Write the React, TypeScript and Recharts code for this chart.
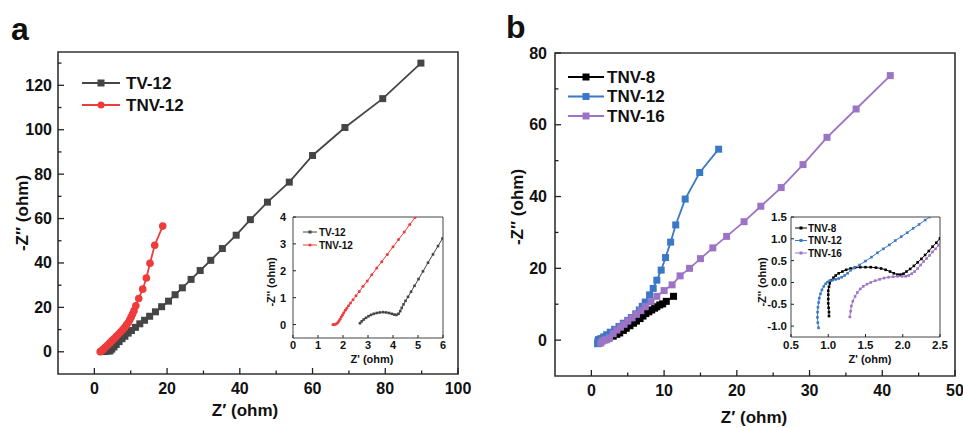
import React from 'react';
import { ScatterChart, Scatter, XAxis, YAxis, ReferenceArea, Legend } from 'recharts';

const FONT = '"Liberation Sans", Arial, Helvetica, sans-serif';
const INK = '#222';

// ---------- colours ----------
const C_TV = '#454545';
const C_RED = '#ee3b3b';
const C_BLACK = '#000000';
const C_BLUE = '#3b78c6';
const C_PURPLE = '#9c74c6';

// ---------- panel a, main ----------
const aTV12 = [
  { x: 2.7, y: 0.1 }, { x: 3.2, y: 0.3 }, { x: 3.8, y: 0.4 }, { x: 4.3, y: 0.4 }, { x: 4.8, y: 1.2 },
  { x: 5.4, y: 2.2 }, { x: 6.0, y: 3.3 }, { x: 6.8, y: 4.6 }, { x: 7.6, y: 5.9 }, { x: 8.4, y: 7.0 },
  { x: 9.3, y: 8.4 }, { x: 10.2, y: 9.6 }, { x: 11.3, y: 11.0 }, { x: 12.5, y: 12.6 }, { x: 13.8, y: 14.2 },
  { x: 15.2, y: 16.0 }, { x: 16.8, y: 18.0 }, { x: 18.5, y: 20.3 }, { x: 20.4, y: 22.8 }, { x: 22.2, y: 25.7 },
  { x: 24.2, y: 28.8 }, { x: 26.6, y: 32.6 }, { x: 29.1, y: 36.6 }, { x: 32.0, y: 41.2 }, { x: 35.2, y: 46.5 },
  { x: 39.0, y: 52.5 }, { x: 42.9, y: 59.5 }, { x: 47.6, y: 67.4 }, { x: 53.6, y: 76.4 }, { x: 60.0, y: 88.4 },
  { x: 68.9, y: 101 }, { x: 79.3, y: 114 }, { x: 89.8, y: 130 },
];
const aTNV12 = [
  { x: 1.6, y: 0 }, { x: 1.8, y: 0.2 }, { x: 2.1, y: 0.6 }, { x: 2.5, y: 1.2 }, { x: 3.0, y: 2.0 },
  { x: 3.6, y: 2.9 }, { x: 4.2, y: 3.9 }, { x: 4.8, y: 4.9 }, { x: 5.4, y: 5.9 }, { x: 6.0, y: 6.9 },
  { x: 6.6, y: 7.9 }, { x: 7.2, y: 8.9 }, { x: 7.8, y: 9.9 }, { x: 8.3, y: 10.9 }, { x: 8.8, y: 12.0 },
  { x: 9.3, y: 13.1 }, { x: 9.7, y: 14.3 }, { x: 10.1, y: 15.6 }, { x: 10.5, y: 17.0 }, { x: 10.9, y: 18.5 },
  { x: 11.4, y: 20.7 }, { x: 12.2, y: 24.0 }, { x: 13.3, y: 28.2 }, { x: 14.3, y: 33.2 }, { x: 15.3, y: 39.9 },
  { x: 16.6, y: 48.0 }, { x: 18.8, y: 56.6 },
];
const aXTicks = [0, 10, 20, 30, 40, 50, 60, 70, 80, 90, 100];
const aXMajor = [0, 20, 40, 60, 80, 100];
const aYTicks = [0, 10, 20, 30, 40, 50, 60, 70, 80, 90, 100, 110, 120, 130];
const aYMajor = [0, 20, 40, 60, 80, 100, 120];

// ---------- panel a, inset ----------
const aiTV12 = [
  { x: 2.68, y: 0.05 }, { x: 2.75, y: 0.12 }, { x: 2.83, y: 0.19 }, { x: 2.92, y: 0.25 }, { x: 3.02, y: 0.31 },
  { x: 3.12, y: 0.36 }, { x: 3.23, y: 0.4 }, { x: 3.35, y: 0.43 }, { x: 3.47, y: 0.45 }, { x: 3.6, y: 0.46 },
  { x: 3.72, y: 0.45 }, { x: 3.84, y: 0.43 }, { x: 3.95, y: 0.4 }, { x: 4.05, y: 0.37 }, { x: 4.14, y: 0.36 },
  { x: 4.22, y: 0.4 }, { x: 4.29, y: 0.5 }, { x: 4.35, y: 0.62 }, { x: 4.42, y: 0.75 }, { x: 4.5, y: 0.88 },
  { x: 4.6, y: 1.03 }, { x: 4.72, y: 1.22 }, { x: 4.86, y: 1.44 }, { x: 5.02, y: 1.69 }, { x: 5.2, y: 1.98 },
  { x: 5.4, y: 2.3 }, { x: 5.6, y: 2.61 }, { x: 5.8, y: 2.92 }, { x: 5.98, y: 3.2 },
];
const aiTNV12 = [
  { x: 1.6, y: 0.0 }, { x: 1.66, y: 0.0 }, { x: 1.72, y: 0.02 }, { x: 1.78, y: 0.06 }, { x: 1.83, y: 0.12 },
  { x: 1.88, y: 0.2 }, { x: 1.93, y: 0.28 }, { x: 1.98, y: 0.36 }, { x: 2.03, y: 0.44 }, { x: 2.09, y: 0.53 },
  { x: 2.15, y: 0.61 }, { x: 2.22, y: 0.7 }, { x: 2.3, y: 0.8 }, { x: 2.4, y: 0.92 }, { x: 2.52, y: 1.07 },
  { x: 2.65, y: 1.23 }, { x: 2.8, y: 1.42 }, { x: 2.97, y: 1.62 }, { x: 3.15, y: 1.85 }, { x: 3.35, y: 2.1 },
  { x: 3.55, y: 2.34 }, { x: 3.77, y: 2.61 }, { x: 4.0, y: 2.89 }, { x: 4.22, y: 3.16 }, { x: 4.45, y: 3.44 },
  { x: 4.67, y: 3.72 }, { x: 4.88, y: 3.98 },
];
const aiXTicks = [0, 1, 2, 3, 4, 5, 6];
const aiYTicks = [0, 1, 2, 3, 4];

// ---------- panel b, main ----------
const bTNV8 = [
  { x: 1.0, y: -0.8 }, { x: 1.0, y: 0 }, { x: 1.5, y: 0.3 }, { x: 2.0, y: 0.2 }, { x: 2.4, y: 0.6 },
  { x: 3.0, y: 1.1 }, { x: 3.5, y: 1.6 }, { x: 3.9, y: 2.0 }, { x: 4.4, y: 2.7 }, { x: 4.8, y: 3.3 },
  { x: 5.3, y: 4.0 }, { x: 5.8, y: 4.7 }, { x: 6.2, y: 5.3 }, { x: 6.7, y: 6.0 }, { x: 7.1, y: 6.7 },
  { x: 7.5, y: 7.4 }, { x: 7.9, y: 7.9 }, { x: 8.3, y: 8.4 }, { x: 8.7, y: 8.9 }, { x: 9.0, y: 9.3 },
  { x: 9.4, y: 9.8 }, { x: 9.8, y: 10.1 }, { x: 10.3, y: 10.8 }, { x: 11.3, y: 12.2 },
];
const bTNV12 = [
  { x: 0.86, y: -1.0 }, { x: 0.9, y: -0.3 }, { x: 1.0, y: 0.1 }, { x: 1.3, y: 0.4 }, { x: 1.7, y: 0.9 },
  { x: 2.1, y: 1.5 }, { x: 2.6, y: 2.2 }, { x: 3.2, y: 3.0 }, { x: 3.8, y: 3.8 }, { x: 4.4, y: 4.7 },
  { x: 5.0, y: 5.5 }, { x: 5.5, y: 6.3 }, { x: 6.1, y: 7.3 }, { x: 6.6, y: 8.4 }, { x: 7.0, y: 9.4 },
  { x: 7.4, y: 10.6 }, { x: 8.0, y: 12.6 }, { x: 8.5, y: 14.4 }, { x: 9.0, y: 16.7 }, { x: 9.6, y: 19.5 },
  { x: 10.2, y: 23.0 }, { x: 10.9, y: 27.3 }, { x: 11.6, y: 32.1 }, { x: 12.9, y: 39.3 }, { x: 14.9, y: 46.7 },
  { x: 17.5, y: 53.2 },
];
const bTNV16 = [
  { x: 1.3, y: -0.8 }, { x: 1.5, y: -0.3 }, { x: 1.8, y: 0.0 }, { x: 2.1, y: 0.1 }, { x: 2.5, y: 0.6 },
  { x: 3.0, y: 1.8 }, { x: 3.5, y: 2.8 }, { x: 4.0, y: 3.6 }, { x: 4.5, y: 4.4 }, { x: 5.0, y: 5.3 },
  { x: 5.6, y: 6.2 }, { x: 6.2, y: 7.2 }, { x: 6.8, y: 8.2 }, { x: 7.4, y: 9.3 }, { x: 8.2, y: 10.7 },
  { x: 9.0, y: 12.2 }, { x: 10.0, y: 13.8 }, { x: 11.1, y: 15.4 }, { x: 12.2, y: 17.9 }, { x: 13.5, y: 20.0 },
  { x: 15.0, y: 22.7 }, { x: 16.7, y: 25.7 }, { x: 18.6, y: 28.9 }, { x: 21.0, y: 33.0 }, { x: 23.3, y: 37.3 },
  { x: 26.1, y: 42.5 }, { x: 29.1, y: 48.9 }, { x: 32.4, y: 56.5 }, { x: 36.4, y: 64.4 }, { x: 41.1, y: 73.7 },
];
const bXTicks = [0, 5, 10, 15, 20, 25, 30, 35, 40, 45, 50];
const bXMajor = [0, 10, 20, 30, 40, 50];
const bYTicks = [0, 10, 20, 30, 40, 50, 60, 70, 80];
const bYMajor = [0, 20, 40, 60, 80];

// ---------- panel b, inset ----------
const biTNV8 = [
  { x: 1.01, y: -0.77 }, { x: 1.01, y: -0.68 }, { x: 1.005, y: -0.58 }, { x: 1.0, y: -0.48 }, { x: 1.0, y: -0.38 },
  { x: 1.0, y: -0.28 }, { x: 1.0, y: -0.19 }, { x: 1.01, y: -0.1 }, { x: 1.02, y: -0.02 }, { x: 1.04, y: 0.05 },
  { x: 1.07, y: 0.11 }, { x: 1.1, y: 0.16 }, { x: 1.14, y: 0.21 }, { x: 1.19, y: 0.25 }, { x: 1.24, y: 0.29 },
  { x: 1.3, y: 0.32 }, { x: 1.36, y: 0.34 }, { x: 1.43, y: 0.35 }, { x: 1.5, y: 0.35 }, { x: 1.57, y: 0.35 },
  { x: 1.64, y: 0.34 }, { x: 1.71, y: 0.32 }, { x: 1.77, y: 0.29 }, { x: 1.83, y: 0.25 }, { x: 1.88, y: 0.21 },
  { x: 1.93, y: 0.18 }, { x: 1.97, y: 0.18 }, { x: 2.01, y: 0.2 }, { x: 2.05, y: 0.25 }, { x: 2.1, y: 0.31 },
  { x: 2.15, y: 0.38 }, { x: 2.2, y: 0.46 }, { x: 2.25, y: 0.54 }, { x: 2.3, y: 0.63 }, { x: 2.35, y: 0.72 },
  { x: 2.4, y: 0.82 }, { x: 2.45, y: 0.91 }, { x: 2.5, y: 1.01 },
];
const biTNV12 = [
  { x: 0.87, y: -1.04 }, { x: 0.86, y: -0.92 }, { x: 0.855, y: -0.8 }, { x: 0.857, y: -0.68 }, { x: 0.862, y: -0.57 },
  { x: 0.87, y: -0.46 }, { x: 0.88, y: -0.36 }, { x: 0.895, y: -0.26 }, { x: 0.915, y: -0.17 }, { x: 0.94, y: -0.09 },
  { x: 0.965, y: -0.03 }, { x: 0.99, y: 0.01 }, { x: 1.02, y: 0.04 }, { x: 1.06, y: 0.06 }, { x: 1.1, y: 0.07 },
  { x: 1.14, y: 0.09 }, { x: 1.18, y: 0.12 }, { x: 1.22, y: 0.16 }, { x: 1.26, y: 0.21 }, { x: 1.3, y: 0.28 },
  { x: 1.35, y: 0.33 }, { x: 1.42, y: 0.4 }, { x: 1.5, y: 0.49 }, { x: 1.58, y: 0.58 }, { x: 1.66, y: 0.68 },
  { x: 1.74, y: 0.77 }, { x: 1.82, y: 0.86 }, { x: 1.9, y: 0.96 }, { x: 1.98, y: 1.05 }, { x: 2.06, y: 1.14 },
  { x: 2.14, y: 1.24 }, { x: 2.22, y: 1.33 }, { x: 2.3, y: 1.43 }, { x: 2.36, y: 1.5 },
];
const biTNV16 = [
  { x: 1.29, y: -0.79 }, { x: 1.3, y: -0.66 }, { x: 1.31, y: -0.54 }, { x: 1.33, y: -0.43 }, { x: 1.36, y: -0.32 },
  { x: 1.39, y: -0.23 }, { x: 1.43, y: -0.15 }, { x: 1.47, y: -0.09 }, { x: 1.52, y: -0.04 }, { x: 1.57, y: 0.0 },
  { x: 1.63, y: 0.04 }, { x: 1.69, y: 0.07 }, { x: 1.75, y: 0.1 }, { x: 1.81, y: 0.12 }, { x: 1.87, y: 0.13 },
  { x: 1.93, y: 0.14 }, { x: 1.99, y: 0.14 }, { x: 2.04, y: 0.14 }, { x: 2.08, y: 0.16 }, { x: 2.12, y: 0.2 },
  { x: 2.16, y: 0.25 }, { x: 2.2, y: 0.32 }, { x: 2.24, y: 0.4 }, { x: 2.28, y: 0.48 }, { x: 2.32, y: 0.55 },
  { x: 2.36, y: 0.62 }, { x: 2.4, y: 0.7 }, { x: 2.44, y: 0.77 }, { x: 2.48, y: 0.85 }, { x: 2.5, y: 0.88 },
];
const biXTicks = [0.5, 1.0, 1.5, 2.0, 2.5];
const biYTicks = [-1.0, -0.5, 0.0, 0.5, 1.0, 1.5];

// ---------- helpers ----------
type TickOpts = {
  side: 'left' | 'bottom';
  majors: number[];
  majorLen: number;
  minorLen: number;
  gap: number;
  fontSize: number;
  digits: number;
  width?: number;
};

const makeTick = (o: TickOpts) => (props: any) => {
  const { x, y, payload } = props;
  const v = Number(payload.value);
  const major = o.majors.some((m) => Math.abs(m - v) < 1e-6);
  const len = major ? o.majorLen : o.minorLen;
  const label = v.toFixed(o.digits);
  const sw = o.width ?? 1.3;
  const textProps = {
    fontSize: o.fontSize,
    fontWeight: 700,
    fontFamily: FONT,
    fill: '#111',
    dominantBaseline: 'central' as const,
  };
  if (o.side === 'left') {
    return (
      <g>
        <line x1={x} x2={x + len} y1={y} y2={y} stroke={INK} strokeWidth={sw} />
        {major && (
          <text x={x - o.gap} y={y} textAnchor="end" {...textProps}>
            {label}
          </text>
        )}
      </g>
    );
  }
  return (
    <g>
      <line x1={x} x2={x} y1={y} y2={y - len} stroke={INK} strokeWidth={sw} />
      {major && (
        <text x={x} y={y + o.gap} textAnchor="middle" {...textProps}>
          {label}
        </text>
      )}
    </g>
  );
};

const yTitle = (text: string, cx: number, cy: number, size: number) => () => (
  <text
    x={cx}
    y={cy}
    transform={`rotate(-90 ${cx} ${cy})`}
    textAnchor="middle"
    dominantBaseline="central"
    fontSize={size}
    fontWeight={700}
    fontFamily={FONT}
    fill="#111"
  >
    {text}
  </text>
);

const xTitle = (text: string, cx: number, cy: number, size: number) => () => (
  <text
    x={cx}
    y={cy}
    textAnchor="middle"
    dominantBaseline="central"
    fontSize={size}
    fontWeight={700}
    fontFamily={FONT}
    fill="#111"
  >
    {text}
  </text>
);

const squareShape = (size: number, color: string) => (p: any) => (
  <rect x={p.cx - size / 2} y={p.cy - size / 2} width={size} height={size} fill={color} />
);
const circleShape = (r: number, color: string) => (p: any) => <circle cx={p.cx} cy={p.cy} r={r} fill={color} />;

type LegItem = { name: string; color: string; shape: 'square' | 'circle' };
type LegOpts = {
  y0: number;
  rowGap: number;
  x0: number;
  x1: number;
  textX: number;
  marker: number;
  fontSize: number;
  lineW: number;
  w: number;
  h: number;
};
const makeLegend = (items: LegItem[], o: LegOpts) => () => (
  <svg width={o.w} height={o.h} style={{ overflow: 'visible', display: 'block' }}>
    {items.map((it, i) => {
      const cy = o.y0 + i * o.rowGap;
      const mx = (o.x0 + o.x1) / 2;
      return (
        <g key={it.name}>
          <line x1={o.x0} x2={o.x1} y1={cy} y2={cy} stroke={it.color} strokeWidth={o.lineW} />
          {it.shape === 'square' ? (
            <rect x={mx - o.marker / 2} y={cy - o.marker / 2} width={o.marker} height={o.marker} fill={it.color} />
          ) : (
            <circle cx={mx} cy={cy} r={o.marker / 2} fill={it.color} />
          )}
          <text
            x={o.textX}
            y={cy}
            dominantBaseline="central"
            fontSize={o.fontSize}
            fontWeight={700}
            fontFamily={FONT}
            fill="#111"
          >
            {it.name}
          </text>
        </g>
      );
    })}
  </svg>
);

const legendA: LegItem[] = [
  { name: 'TV-12', color: C_TV, shape: 'square' },
  { name: 'TNV-12', color: C_RED, shape: 'circle' },
];
const legendB: LegItem[] = [
  { name: 'TNV-8', color: C_BLACK, shape: 'square' },
  { name: 'TNV-12', color: C_BLUE, shape: 'square' },
  { name: 'TNV-16', color: C_PURPLE, shape: 'square' },
];

// ---------- panels ----------
function PanelA() {
  return (
    <ScatterChart width={480} height={428} margin={{ top: 52, right: 22, bottom: 0, left: 0 }}>
      <XAxis
        type="number"
        dataKey="x"
        domain={[-10, 100]}
        ticks={aXTicks}
        interval={0}
        allowDataOverflow
        height={54}
        axisLine={false}
        tickLine={false}
        tickSize={0}
        tickMargin={0}
        tick={makeTick({ side: 'bottom', majors: aXMajor, majorLen: 6, minorLen: 3.5, gap: 14, fontSize: 16, digits: 0 })}
        label={xTitle('Z\u2032 (ohm)', 245, 410, 17)}
      />
      <YAxis
        type="number"
        dataKey="y"
        domain={[-10, 135]}
        ticks={aYTicks}
        interval={0}
        allowDataOverflow
        width={58}
        axisLine={false}
        tickLine={false}
        tickSize={0}
        tickMargin={0}
        tick={makeTick({ side: 'left', majors: aYMajor, majorLen: 6, minorLen: 3.5, gap: 6, fontSize: 16, digits: 0 })}
        label={yTitle('-Z\u2032\u2032 (ohm)', 22, 213, 17)}
      />
      <ReferenceArea x1={-10} x2={100} y1={-10} y2={135} fill="none" fillOpacity={0} stroke="#333" strokeWidth={1.6} />
      <Scatter
        name="TV-12"
        data={aTV12}
        fill={C_TV}
        line={{ stroke: C_TV, strokeWidth: 1.8 }}
        lineType="joint"
        shape={squareShape(7, C_TV)}
        isAnimationActive={false}
      />
      <Scatter
        name="TNV-12"
        data={aTNV12}
        fill={C_RED}
        line={{ stroke: C_RED, strokeWidth: 1.8 }}
        lineType="joint"
        shape={circleShape(3.8, C_RED)}
        isAnimationActive={false}
      />
      <Legend
        layout="horizontal"
        verticalAlign="middle"
        align="center"
        wrapperStyle={{ left: 78, top: 72, width: 140, height: 46 }}
        content={makeLegend(legendA, { y0: 11, rowGap: 22, x0: 4, x1: 42, textX: 48, marker: 7, fontSize: 17, lineW: 1.8, w: 140, h: 46 })}
      />
    </ScatterChart>
  );
}

function InsetA() {
  return (
    <ScatterChart width={200} height={165} margin={{ top: 12, right: 7, bottom: 0, left: 0 }}>
      <XAxis
        type="number"
        dataKey="x"
        domain={[0, 6]}
        ticks={aiXTicks}
        interval={0}
        allowDataOverflow
        height={32}
        axisLine={false}
        tickLine={false}
        tickSize={0}
        tickMargin={0}
        tick={makeTick({ side: 'bottom', majors: aiXTicks, majorLen: 3, minorLen: 2, gap: 7, fontSize: 11, digits: 0, width: 1 })}
        label={xTitle("Z' (ohm)", 122, 154, 11)}
      />
      <YAxis
        type="number"
        dataKey="y"
        domain={[-0.5, 4]}
        ticks={aiYTicks}
        interval={0}
        allowDataOverflow
        width={43}
        axisLine={false}
        tickLine={false}
        tickSize={0}
        tickMargin={0}
        tick={makeTick({ side: 'left', majors: aiYTicks, majorLen: 3, minorLen: 2, gap: 7, fontSize: 11, digits: 0, width: 1 })}
        label={yTitle("-Z'' (ohm)", 21, 77, 11)}
      />
      <ReferenceArea x1={0} x2={6} y1={-0.5} y2={4} fill="none" fillOpacity={0} stroke="#444" strokeWidth={1} />
      <Scatter
        name="TV-12"
        data={aiTV12}
        fill={C_TV}
        line={{ stroke: C_TV, strokeWidth: 1 }}
        lineType="joint"
        shape={squareShape(2.6, C_TV)}
        isAnimationActive={false}
      />
      <Scatter
        name="TNV-12"
        data={aiTNV12}
        fill={C_RED}
        line={{ stroke: C_RED, strokeWidth: 1 }}
        lineType="joint"
        shape={circleShape(1.5, C_RED)}
        isAnimationActive={false}
      />
      <Legend
        layout="horizontal"
        verticalAlign="middle"
        align="center"
        wrapperStyle={{ left: 50, top: 20, width: 80, height: 30 }}
        content={makeLegend(legendA, { y0: 7, rowGap: 13, x0: 3, x1: 17, textX: 19, marker: 3, fontSize: 10, lineW: 1, w: 80, h: 30 })}
      />
    </ScatterChart>
  );
}

function PanelB() {
  return (
    <ScatterChart width={483} height={428} margin={{ top: 53, right: 8, bottom: 0, left: 0 }}>
      <XAxis
        type="number"
        dataKey="x"
        domain={[-5, 50]}
        ticks={bXTicks}
        interval={0}
        allowDataOverflow
        height={52}
        axisLine={false}
        tickLine={false}
        tickSize={0}
        tickMargin={0}
        tick={makeTick({ side: 'bottom', majors: bXMajor, majorLen: 6, minorLen: 3.5, gap: 14, fontSize: 16, digits: 0 })}
        label={xTitle('Z\u2032 (ohm)', 274, 417, 17)}
      />
      <YAxis
        type="number"
        dataKey="y"
        domain={[-10, 80]}
        ticks={bYTicks}
        interval={0}
        allowDataOverflow
        width={75}
        axisLine={false}
        tickLine={false}
        tickSize={0}
        tickMargin={0}
        tick={makeTick({ side: 'left', majors: bYMajor, majorLen: 6, minorLen: 3.5, gap: 8, fontSize: 16, digits: 0 })}
        label={yTitle('-Z\u2032\u2032 (ohm)', 37, 207, 17)}
      />
      <ReferenceArea x1={-5} x2={50} y1={-10} y2={80} fill="none" fillOpacity={0} stroke="#333" strokeWidth={1.6} />
      <Scatter
        name="TNV-8"
        data={bTNV8}
        fill={C_BLACK}
        line={{ stroke: C_BLACK, strokeWidth: 1.8 }}
        lineType="joint"
        shape={squareShape(7, C_BLACK)}
        isAnimationActive={false}
      />
      <Scatter
        name="TNV-12"
        data={bTNV12}
        fill={C_BLUE}
        line={{ stroke: C_BLUE, strokeWidth: 1.8 }}
        lineType="joint"
        shape={squareShape(7, C_BLUE)}
        isAnimationActive={false}
      />
      <Scatter
        name="TNV-16"
        data={bTNV16}
        fill={C_PURPLE}
        line={{ stroke: C_PURPLE, strokeWidth: 1.8 }}
        lineType="joint"
        shape={squareShape(7, C_PURPLE)}
        isAnimationActive={false}
      />
      <Legend
        layout="horizontal"
        verticalAlign="middle"
        align="center"
        wrapperStyle={{ left: 85, top: 66, width: 140, height: 62 }}
        content={makeLegend(legendB, { y0: 11, rowGap: 19.5, x0: 3, x1: 39, textX: 42, marker: 7, fontSize: 17, lineW: 1.8, w: 140, h: 62 })}
      />
    </ScatterChart>
  );
}

function InsetB() {
  return (
    <ScatterChart width={210} height={165} margin={{ top: 12, right: 10, bottom: 0, left: 0 }}>
      <XAxis
        type="number"
        dataKey="x"
        domain={[0.5, 2.5]}
        ticks={biXTicks}
        interval={0}
        allowDataOverflow
        height={33}
        axisLine={false}
        tickLine={false}
        tickSize={0}
        tickMargin={0}
        tick={makeTick({ side: 'bottom', majors: biXTicks, majorLen: 3, minorLen: 2, gap: 8, fontSize: 11.5, digits: 1, width: 1 })}
        label={xTitle("Z' (ohm)", 130, 154, 11)}
      />
      <YAxis
        type="number"
        dataKey="y"
        domain={[-1.25, 1.5]}
        ticks={biYTicks}
        interval={0}
        allowDataOverflow
        width={51}
        axisLine={false}
        tickLine={false}
        tickSize={0}
        tickMargin={0}
        tick={makeTick({ side: 'left', majors: biYTicks, majorLen: 3, minorLen: 2, gap: 4, fontSize: 11.5, digits: 1, width: 1 })}
        label={yTitle("-Z'' (ohm)", 22, 77, 11)}
      />
      <ReferenceArea x1={0.5} x2={2.5} y1={-1.25} y2={1.5} fill="none" fillOpacity={0} stroke="#444" strokeWidth={1} />
      <Scatter
        name="TNV-8"
        data={biTNV8}
        fill={C_BLACK}
        line={{ stroke: C_BLACK, strokeWidth: 1 }}
        lineType="joint"
        shape={squareShape(2.6, C_BLACK)}
        isAnimationActive={false}
      />
      <Scatter
        name="TNV-12"
        data={biTNV12}
        fill={C_BLUE}
        line={{ stroke: C_BLUE, strokeWidth: 1 }}
        lineType="joint"
        shape={squareShape(2.6, C_BLUE)}
        isAnimationActive={false}
      />
      <Scatter
        name="TNV-16"
        data={biTNV16}
        fill={C_PURPLE}
        line={{ stroke: C_PURPLE, strokeWidth: 1 }}
        lineType="joint"
        shape={squareShape(2.6, C_PURPLE)}
        isAnimationActive={false}
      />
      <Legend
        layout="horizontal"
        verticalAlign="middle"
        align="center"
        wrapperStyle={{ left: 52, top: 16, width: 80, height: 40 }}
        content={makeLegend(legendB, { y0: 7, rowGap: 12.5, x0: 3, x1: 15, textX: 16, marker: 3, fontSize: 10, lineW: 1, w: 80, h: 40 })}
      />
    </ScatterChart>
  );
}

export default function App() {
  return (
    <div
      style={{
        position: 'absolute',
        left: 0,
        top: 0,
        width: 963,
        height: 428,
        background: '#fff',
        overflow: 'hidden',
        fontFamily: FONT,
      }}
    >
      <div style={{ position: 'absolute', left: 0, top: 0 }}>
        <PanelA />
      </div>
      <div style={{ position: 'absolute', left: 250, top: 205 }}>
        <InsetA />
      </div>
      <div style={{ position: 'absolute', left: 480, top: 0 }}>
        <PanelB />
      </div>
      <div style={{ position: 'absolute', left: 740, top: 205 }}>
        <InsetB />
      </div>
      <div style={{ position: 'absolute', left: 11, top: 13, fontSize: 32, fontWeight: 700, lineHeight: 1, color: '#111' }}>
        a
      </div>
      <div style={{ position: 'absolute', left: 506, top: 11, fontSize: 32, fontWeight: 700, lineHeight: 1, color: '#111' }}>
        b
      </div>
    </div>
  );
}
